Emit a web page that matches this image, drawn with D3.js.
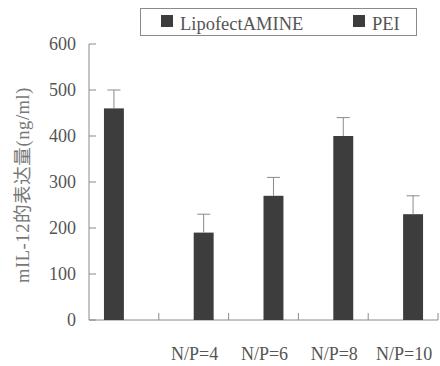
<!DOCTYPE html>
<html>
<head>
<meta charset="utf-8">
<script src="https://cdn.jsdelivr.net/npm/d3@7"></script>
<style>
  body { margin: 0; background: #fff; }
  text { font-family: "Liberation Serif", "Noto Sans CJK SC", serif; fill: #555; }
</style>
</head>
<body>
<svg id="chart" width="440" height="366"></svg>
<script>
var categories = ["", "N/P=4", "N/P=6", "N/P=8", "N/P=10"];
var seriesNames = ["LipofectAMINE", "PEI"];
var lipoValues = [460, null, null, null, null];
var lipoErrors = [40, null, null, null, null];
var peiValues = [null, 190, 270, 400, 230];
var peiErrors = [null, 40, 40, 40, 40];
var yTicks = [0, 100, 200, 300, 400, 500, 600];

var svg = d3.select('#chart'),
    barColor = '#3d3d3d',
    axisColor = '#8a8a8a';

var x = d3.scaleBand().domain(categories).range([89, 438]).padding(0);
var sub = d3.scaleBand().domain(seriesNames).range([0, x.step()]).paddingInner(0).paddingOuter(0.75);
var y = d3.scaleLinear().domain([0, 600]).range([320, 44]);

// axes
svg.append('line')
    .attr('x1', x.range()[0]).attr('x2', x.range()[0])
    .attr('y1', y(0)).attr('y2', y(600))
    .attr('stroke', axisColor);
svg.append('line')
    .attr('x1', x.range()[0]).attr('x2', x.range()[1])
    .attr('y1', y(0)).attr('y2', y(0))
    .attr('stroke', axisColor);

svg.selectAll('.ytick').data(yTicks).enter().append('line')
    .attr('x1', x.range()[0]).attr('x2', x.range()[0] + 7)
    .attr('y1', function(d){ return y(d); }).attr('y2', function(d){ return y(d); })
    .attr('stroke', axisColor);

svg.selectAll('.ylabel').data(yTicks).enter().append('text')
    .attr('x', 76)
    .attr('y', function(d){ return y(d) + 6; })
    .attr('text-anchor', 'end')
    .attr('font-size', 18)
    .text(function(d){ return d; });

// x ticks at band boundaries
var bounds = categories.slice(1).map(function(c){ return x(c); }).concat([x.range()[1]]);
svg.selectAll('.xtick').data(bounds).enter().append('line')
    .attr('x1', function(d){ return d; }).attr('x2', function(d){ return d; })
    .attr('y1', y(0)).attr('y2', y(0) - 7)
    .attr('stroke', axisColor);

svg.selectAll('.xlabel').data(categories).enter().append('text')
    .attr('x', function(d){ return x(d) + x.bandwidth() / 2 + 1; })
    .attr('y', 360)
    .attr('text-anchor', 'middle')
    .attr('font-size', 18)
    .text(function(d){ return d; });

// y title
svg.append('text')
    .attr('transform', 'translate(29,185) rotate(-90)')
    .attr('text-anchor', 'middle')
    .attr('font-size', 18.5)
    .attr('letter-spacing', 0.6)
    .style('fill', '#777')
    .text('mIL-12的表达量(ng/ml)');

// bars
function drawSeries(name, values, errors) {
    var rows = categories.map(function(c, i){ return {c: c, v: values[i], e: errors[i]}; })
        .filter(function(d){ return d.v != null; });
    var g = svg.append('g');
    g.selectAll('rect').data(rows).enter().append('rect')
        .attr('x', function(d){ return x(d.c) + sub(name); })
        .attr('y', function(d){ return y(d.v); })
        .attr('width', sub.bandwidth())
        .attr('height', function(d){ return y(0) - y(d.v); })
        .attr('fill', barColor);
    g.selectAll('.err').data(rows).enter().append('line')
        .attr('x1', function(d){ return x(d.c) + sub(name) + sub.bandwidth() / 2; })
        .attr('x2', function(d){ return x(d.c) + sub(name) + sub.bandwidth() / 2; })
        .attr('y1', function(d){ return y(d.v); })
        .attr('y2', function(d){ return y(d.v + d.e); })
        .attr('stroke', axisColor);
    g.selectAll('.cap').data(rows).enter().append('line')
        .attr('x1', function(d){ return x(d.c) + sub(name) + sub.bandwidth() / 2 - 6.5; })
        .attr('x2', function(d){ return x(d.c) + sub(name) + sub.bandwidth() / 2 + 6.5; })
        .attr('y1', function(d){ return y(d.v + d.e); })
        .attr('y2', function(d){ return y(d.v + d.e); })
        .attr('stroke', axisColor);
}
drawSeries(seriesNames[0], lipoValues, lipoErrors);
drawSeries(seriesNames[1], peiValues, peiErrors);

// legend
svg.append('rect')
    .attr('x', 140.5).attr('y', 8.5).attr('width', 276).attr('height', 27)
    .attr('fill', 'none').attr('stroke', axisColor);
var legendX = [161, 353];
seriesNames.forEach(function(n, i){
    svg.append('rect')
        .attr('x', legendX[i]).attr('y', 15).attr('width', 12).attr('height', 12)
        .attr('fill', barColor);
    svg.append('text')
        .attr('x', legendX[i] + 19).attr('y', 30)
        .attr('font-size', 18.5)
        .text(n);
});
</script>
</body>
</html>
